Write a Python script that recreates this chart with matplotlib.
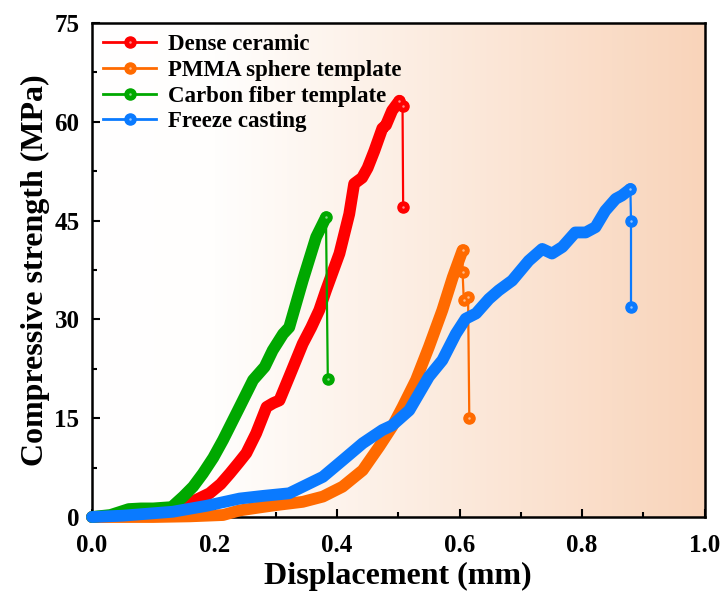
import numpy as np
import matplotlib
matplotlib.use("Agg")
import matplotlib.pyplot as plt
from matplotlib.colors import LinearSegmentedColormap
from matplotlib.lines import Line2D
from matplotlib.legend_handler import HandlerTuple
from matplotlib.ticker import MultipleLocator, FormatStrFormatter

# ---------------- data ----------------
dense_x = [0, 0.05, 0.10, 0.13, 0.149, 0.17, 0.192, 0.21, 0.225, 0.24, 0.252, 0.268,
           0.285, 0.296, 0.306, 0.322, 0.344, 0.358, 0.371, 0.382, 0.404, 0.42, 0.428,
           0.441, 0.45, 0.461, 0.474, 0.48, 0.49, 0.502, 0.507, 0.508]
dense_y = [0, 0.2, 0.5, 1.0, 1.8, 2.6, 3.6, 5.0, 6.6, 8.3, 9.7, 12.7,
           16.7, 17.3, 17.7, 21.3, 26.3, 28.8, 31.4, 34.4, 40.0, 46.0, 50.6,
           51.5, 53.0, 55.6, 59.0, 59.5, 61.7, 63.2, 62.4, 47.0]

pmma_x = [0, 0.10, 0.16, 0.214, 0.241, 0.27, 0.30, 0.344, 0.377, 0.409, 0.442, 0.469,
          0.49, 0.507, 0.529, 0.55, 0.572, 0.589, 0.605, 0.605, 0.607, 0.614, 0.616]
pmma_y = [0, 0, 0.1, 0.3, 1.0, 1.4, 1.8, 2.3, 3.1, 4.6, 7.1, 10.7,
          13.7, 16.7, 20.8, 25.8, 31.4, 36.4, 40.5, 37.2, 32.9, 33.4, 15.0]

carbon_x = [0, 0.03, 0.06, 0.08, 0.10, 0.13, 0.149, 0.165, 0.181, 0.198, 0.214, 0.241,
            0.263, 0.282, 0.295, 0.312, 0.322, 0.344, 0.366, 0.382, 0.385]
carbon_y = [0, 0.3, 1.2, 1.3, 1.3, 1.5, 3.1, 4.6, 6.6, 9.0, 11.7, 16.7,
            20.8, 22.8, 25.3, 27.8, 28.8, 35.9, 42.5, 45.5, 21.0]

freeze_x = [0, 0.05, 0.132, 0.187, 0.241, 0.279, 0.322, 0.344, 0.377, 0.409, 0.442,
            0.474, 0.49, 0.518, 0.55, 0.572, 0.594, 0.61, 0.627, 0.648, 0.664, 0.686,
            0.713, 0.735, 0.751, 0.768, 0.789, 0.806, 0.822, 0.838, 0.855, 0.865,
            0.879, 0.88, 0.88]
freeze_y = [0, 0.2, 0.8, 1.7, 2.8, 3.2, 3.6, 4.6, 6.1, 8.6, 11.2,
            13.2, 13.9, 16.2, 21.3, 23.8, 27.8, 30.1, 30.9, 33.1, 34.4, 35.9,
            38.9, 40.7, 40.0, 41.0, 43.2, 43.2, 44.0, 46.5, 48.3, 48.8,
            49.8, 45.0, 31.9]

labels = ["Dense ceramic", "PMMA sphere template", "Carbon fiber template", "Freeze casting"]
colors = ["#FF0000", "#FF6A00", "#00A800", "#0A7AFF"]

x_ticks = [0.0, 0.2, 0.4, 0.6, 0.8, 1.0]
y_ticks = [0, 15, 30, 45, 60, 75]

# ---------------- figure ----------------
plt.rcParams['font.family'] = ['Liberation Serif', 'DejaVu Serif']
plt.rcParams['font.weight'] = 'bold'

fig = plt.figure(figsize=(7.21, 5.92), dpi=100)
ax = fig.add_axes([92/721, 1 - 517/592, (704.5 - 92)/721, (517 - 23)/592])

# gradient background
cmap_bg = LinearSegmentedColormap.from_list(
    "bg", [(0.0, "#FFFFFF"), (0.2, "#FFFEFD"), (0.55, "#FCECE0"), (1.0, "#F9D4BA")])
grad = np.linspace(0, 1, 256).reshape(1, -1)
ax.imshow(grad, cmap=cmap_bg, extent=[0, 1.0, 0, 75], aspect='auto', zorder=0,
          interpolation='bilinear')

series = [(dense_x, dense_y), (pmma_x, pmma_y), (carbon_x, carbon_y), (freeze_x, freeze_y)]
handles = []
for (xs, ys), c, lab in zip(series, colors, labels):
    xs = np.asarray(xs); ys = np.asarray(ys)
    ip = int(np.argmax(ys))
    # dense marker band before failure
    ax.plot(xs[:ip + 1], ys[:ip + 1], color=c, lw=8.5, solid_capstyle='round',
            solid_joinstyle='round', clip_on=False, zorder=3)
    # failure part: thin line with ball markers
    ax.plot(xs[ip:], ys[ip:], color=c, lw=1.6, marker='o', ms=8, clip_on=False, zorder=3)
    ax.plot(xs[ip:], ys[ip:], ls='none', marker='o', ms=1.8, mew=0, color='white',
            alpha=0.55, clip_on=False, zorder=3.1)
    h1 = Line2D([], [], color=c, lw=2, marker='o', ms=8)
    h2 = Line2D([], [], ls='none', marker='o', ms=1.8, mew=0, color='white', alpha=0.55)
    handles.append((h1, h2))

ax.set_xlim(0, 1.0)
ax.set_ylim(0, 75)
ax.set_xticks(x_ticks)
ax.set_yticks(y_ticks)
ax.xaxis.set_minor_locator(MultipleLocator(0.1))
ax.yaxis.set_minor_locator(MultipleLocator(7.5))
ax.xaxis.set_major_formatter(FormatStrFormatter('%.1f'))
ax.tick_params(which='both', direction='in', top=False, right=False, width=1.5)
ax.tick_params(which='major', length=6, labelsize=18)
ax.tick_params(axis='x', which='major', pad=12)
ax.tick_params(axis='y', which='major', pad=9)
ax.tick_params(which='minor', length=3.5)
for lbl in ax.get_xticklabels() + ax.get_yticklabels():
    lbl.set_fontweight('bold')
for sp in ax.spines.values():
    sp.set_linewidth(1.8)

ax.set_xlabel("Displacement (mm)", fontsize=23, fontweight='bold', labelpad=4)
ax.set_ylabel("Compressive strength (MPa)", fontsize=23, fontweight='bold', labelpad=3)

leg = ax.legend(handles, labels, handler_map={tuple: HandlerTuple(ndivide=1, pad=0)},
                loc='upper left', frameon=False, handlelength=2.3,
                handletextpad=0.5, labelspacing=0.2, borderaxespad=0.2, borderpad=0.3,
                prop={'weight': 'bold', 'size': 16.5})

fig.savefig("out.png", dpi=100)
